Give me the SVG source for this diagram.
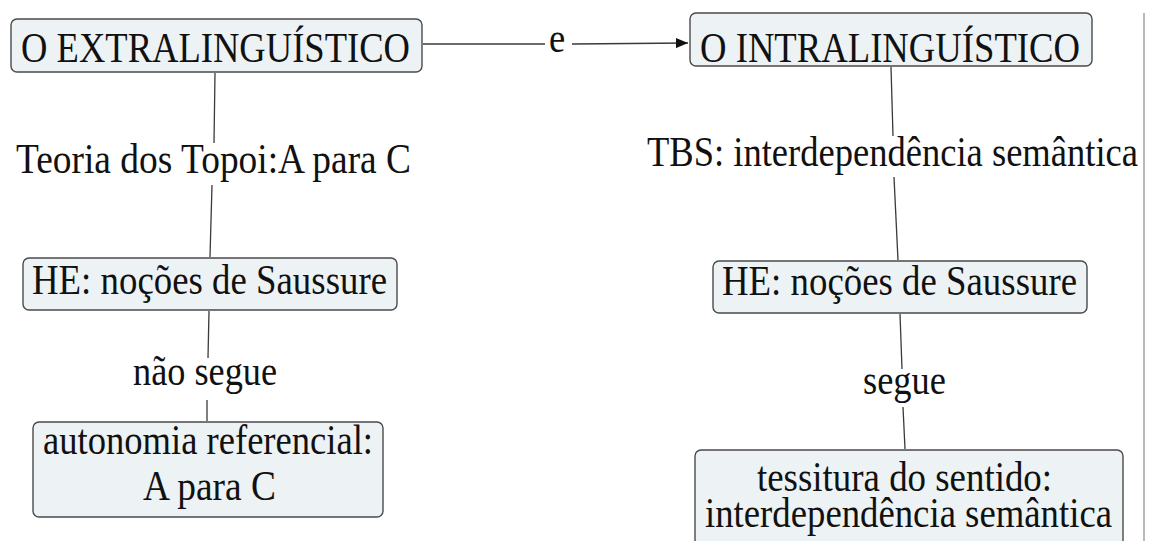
<svg xmlns="http://www.w3.org/2000/svg" width="1157" height="541" viewBox="0 0 1157 541">
  <defs>
    <style>
      .box { fill: #edf2f5; stroke: #4a4a4a; stroke-width: 1.4; }
      .lbl { font-family: "Liberation Serif", "Times New Roman", serif; font-size: 36.6px; fill: #111; text-anchor: middle; }
      .link { stroke: #3a3a3a; stroke-width: 1.3; fill: none; }
    </style>
    <marker id="arrow" viewBox="0 0 12 10" refX="12" refY="5" markerWidth="12" markerHeight="10" markerUnits="userSpaceOnUse" orient="auto">
      <path d="M0,0 L12,5 L0,10 z" fill="#111"/>
    </marker>
  </defs>
  <rect width="1157" height="541" fill="#ffffff"/>

  <!-- page margin rule -->
  <line x1="1144" y1="13" x2="1144" y2="541" stroke="#8a8a8a" stroke-width="1.2"/>

  <!-- labels are drawn a little taller than wide: matrix(1,0,0,1.15,cx,baseline) -->
  <g id="connectors">
    <line class="link" x1="423" y1="44" x2="545" y2="44"/>
    <line class="link" x1="572" y1="44" x2="688" y2="43" marker-end="url(#arrow)"/>
    <text class="lbl" transform="matrix(1,0,0,1.15,557,52)">e</text>

    <line class="link" x1="215" y1="73" x2="214" y2="143"/>
    <text class="lbl" transform="matrix(1,0,0,1.15,213.5,173)" textLength="395" lengthAdjust="spacingAndGlyphs">Teoria dos Topoi:A para C</text>
    <line class="link" x1="212" y1="185" x2="210" y2="257"/>

    <line class="link" x1="209" y1="311" x2="208" y2="358"/>
    <text class="lbl" transform="matrix(1,0,0,1.15,205,385)" textLength="144" lengthAdjust="spacingAndGlyphs">não segue</text>
    <line class="link" x1="207" y1="400" x2="207" y2="421"/>

    <line class="link" x1="891" y1="67" x2="893" y2="136"/>
    <text class="lbl" transform="matrix(1,0,0,1.15,892.5,166)" textLength="491" lengthAdjust="spacingAndGlyphs">TBS: interdependência semântica</text>
    <line class="link" x1="894" y1="177" x2="898" y2="260"/>

    <line class="link" x1="900" y1="314" x2="902" y2="369"/>
    <text class="lbl" transform="matrix(1,0,0,1.15,904.5,394)" textLength="83" lengthAdjust="spacingAndGlyphs">segue</text>
    <line class="link" x1="903" y1="407" x2="905" y2="449"/>
  </g>

  <g id="extralinguistico">
    <rect class="box" x="11" y="19" width="411" height="53" rx="6"/>
    <text class="lbl" transform="matrix(1,0,0,1.15,215.5,62)" textLength="389" lengthAdjust="spacingAndGlyphs">O EXTRALINGUÍSTICO</text>
  </g>

  <g id="intralinguistico">
    <rect class="box" x="690" y="13" width="402" height="53" rx="6"/>
    <text class="lbl" transform="matrix(1,0,0,1.15,890,62)" textLength="380" lengthAdjust="spacingAndGlyphs">O INTRALINGUÍSTICO</text>
  </g>

  <g id="he-left">
    <rect class="box" x="23" y="258" width="374" height="52" rx="6"/>
    <text class="lbl" transform="matrix(1,0,0,1.15,209.5,294)" textLength="355" lengthAdjust="spacingAndGlyphs">HE: noções de Saussure</text>
  </g>

  <g id="he-right">
    <rect class="box" x="713" y="261" width="374" height="52" rx="6"/>
    <text class="lbl" transform="matrix(1,0,0,1.15,899.5,295)" textLength="355" lengthAdjust="spacingAndGlyphs">HE: noções de Saussure</text>
  </g>

  <g id="autonomia">
    <rect class="box" x="33" y="422" width="350" height="95" rx="6"/>
    <text class="lbl" transform="matrix(1,0,0,1.15,208,454)" textLength="330" lengthAdjust="spacingAndGlyphs">autonomia referencial:</text>
    <text class="lbl" transform="matrix(1,0,0,1.15,209.5,500)" textLength="133" lengthAdjust="spacingAndGlyphs">A para C</text>
  </g>

  <g id="tessitura">
    <rect class="box" x="695" y="450" width="428" height="96" rx="6"/>
    <text class="lbl" transform="matrix(1,0,0,1.15,904.5,491)" textLength="295" lengthAdjust="spacingAndGlyphs">tessitura do sentido:</text>
    <text class="lbl" transform="matrix(1,0,0,1.15,908.5,527)" textLength="407" lengthAdjust="spacingAndGlyphs">interdependência semântica</text>
  </g>
</svg>
